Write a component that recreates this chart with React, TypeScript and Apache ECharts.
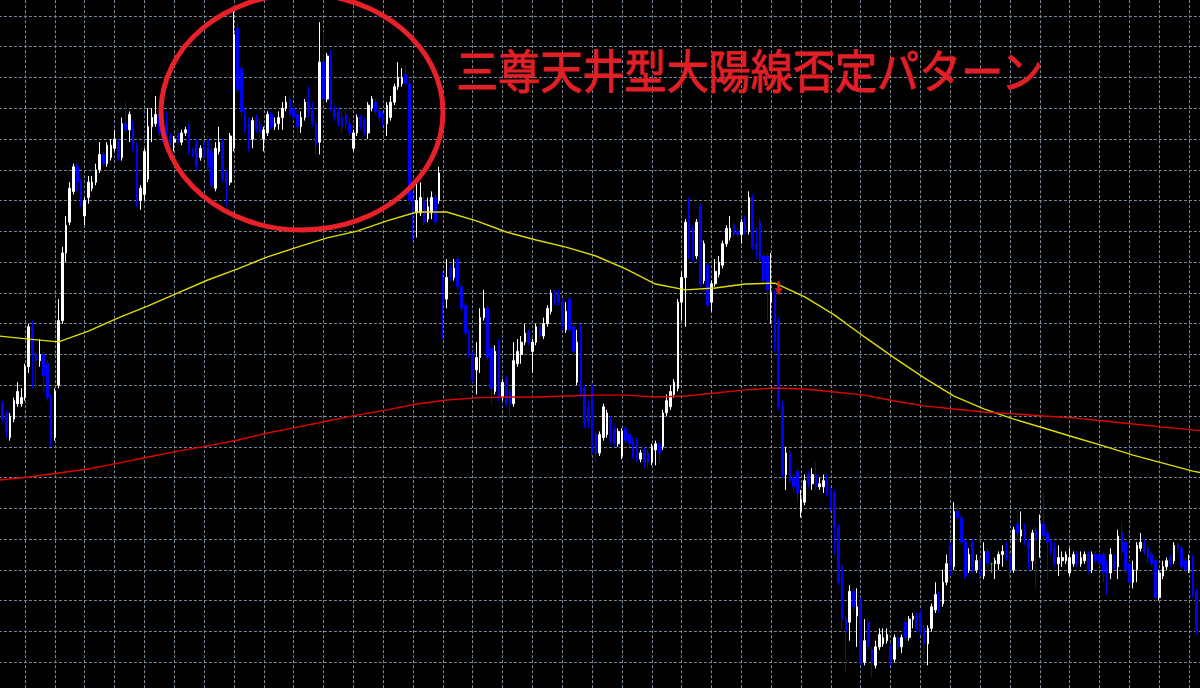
import React, { useEffect, useRef } from "react";
import * as echarts from "echarts";

// 328 bar slots; vertical grid every 8 bars
const categories: string[] = Array.from({ length: 328 }, (_, i) => "b" + i);

const openP: (number | null)[] = [null,
110.74,110.71,110.63,110.69,110.74,110.74,110.76,
110.86,110.99,110.90,110.88,110.90,110.87,110.76,110.63,
110.80,111.01,111.23,111.33,111.43,111.51,111.46,111.35,
111.41,111.44,111.46,111.50,111.55,111.52,111.54,111.57,
111.59,111.54,111.65,111.63,111.64,111.58,111.40,111.42,
111.47,111.64,111.65,111.68,111.65,111.65,111.61,111.59,
111.62,111.59,111.62,111.64,111.56,111.59,111.54,111.59,
111.60,111.56,111.44,111.56,111.59,111.49,111.46,111.57,
111.96,111.83,111.68,111.65,111.60,111.67,111.65,111.60,
111.62,111.68,111.64,111.65,111.67,111.70,111.73,111.70,
111.68,111.64,111.67,111.72,111.69,111.65,111.59,111.85,
111.73,111.87,111.70,111.69,111.67,111.68,111.65,111.57,
111.62,111.67,111.66,111.62,111.70,111.72,111.69,111.68,
111.65,111.67,111.72,111.77,111.78,111.81,111.78,111.40,
111.36,111.36,111.40,111.34,111.36,111.41,111.40,111.15,
111.08,111.18,111.15,111.21,111.12,111.06,110.97,110.90,
110.85,110.89,111.02,111.05,110.92,110.78,110.94,110.76,
110.82,110.78,110.74,110.87,110.90,110.94,110.97,110.91,
110.94,110.99,110.96,111.00,111.04,111.10,111.10,111.07,
110.98,111.08,110.99,110.81,110.99,110.79,110.73,110.80,
110.64,110.58,110.63,110.64,110.69,110.66,110.61,110.57,
110.66,110.64,110.62,110.62,110.56,110.59,110.58,110.55,
110.59,110.61,110.60,110.71,110.73,110.77,110.79,111.07,
111.15,111.40,111.31,111.22,111.38,111.14,111.19,111.07,
111.13,111.16,111.19,111.26,111.28,111.32,111.30,111.29,
111.34,111.30,111.41,111.26,111.33,111.22,111.22,111.07,
111.10,111.01,110.73,110.51,110.58,110.50,110.52,110.39,
110.42,110.51,110.48,110.51,110.47,110.47,110.50,110.46,
110.45,110.34,110.21,110.04,110.03,110.13,110.05,110.10,
109.90,110.03,109.94,109.89,109.95,109.96,109.97,109.95,
109.91,109.98,109.95,110.03,109.98,110.04,110.05,110.06,
110.01,109.96,110.01,110.07,110.11,110.09,110.16,110.28,
110.21,110.39,110.37,110.29,110.20,110.29,110.20,110.23,
110.18,110.26,110.22,110.22,110.22,110.25,110.26,110.25,
110.20,110.35,110.31,110.33,110.29,110.23,110.33,110.30,
110.35,110.32,110.29,110.27,110.22,110.23,110.23,110.19,
110.22,110.25,110.22,110.23,110.25,110.20,110.25,110.25,
110.25,110.22,110.19,110.23,110.21,110.32,110.29,110.22,
110.16,110.20,110.27,110.29,110.27,110.25,110.23,110.11,
110.18,110.21,110.24,110.23,110.28,110.27,110.23,110.20,
110.24,110.13];

const highP: (number | null)[] = [null,
110.75,110.72,110.71,110.76,110.81,110.79,110.87,
111.00,111.01,110.91,110.95,110.91,110.88,110.77,110.79,
111.08,111.25,111.35,111.46,111.52,111.52,111.47,111.41,
111.48,111.48,111.52,111.59,111.56,111.59,111.60,111.63,
111.60,111.67,111.72,111.69,111.66,111.59,111.45,111.57,
111.70,111.70,111.74,111.69,111.68,111.69,111.62,111.61,
111.64,111.63,111.64,111.65,111.57,111.60,111.58,111.60,
111.61,111.58,111.59,111.64,111.60,111.50,111.62,112.03,
111.98,111.84,111.70,111.67,111.67,111.68,111.67,111.64,
111.69,111.69,111.67,111.69,111.72,111.74,111.74,111.71,
111.69,111.69,111.73,111.77,111.72,111.67,111.98,111.95,
111.88,111.89,111.71,111.70,111.69,111.70,111.67,111.63,
111.68,111.68,111.67,111.72,111.74,111.73,111.70,111.69,
111.72,111.74,111.78,111.85,111.83,111.84,111.80,111.43,
111.47,111.46,111.43,111.41,111.43,111.42,111.51,111.17,
111.21,111.19,111.21,111.22,111.13,111.07,110.98,110.91,
110.94,111.05,111.11,111.06,110.93,110.93,110.95,110.82,
110.83,110.79,110.94,110.95,110.96,111.00,110.98,110.95,
111.00,111.00,111.02,111.06,111.11,111.11,111.11,111.08,
111.07,111.09,111.00,110.98,111.00,110.80,110.75,110.81,
110.65,110.65,110.74,110.72,110.70,110.67,110.66,110.66,
110.67,110.65,110.63,110.63,110.59,110.60,110.59,110.61,
110.62,110.62,110.72,110.77,110.80,110.82,111.08,111.17,
111.34,111.41,111.32,111.34,111.39,111.27,111.20,111.14,
111.21,111.22,111.27,111.32,111.35,111.33,111.31,111.34,
111.35,111.43,111.42,111.31,111.34,111.23,111.23,111.23,
111.11,111.02,110.75,110.60,110.59,110.51,110.53,110.46,
110.51,110.52,110.53,110.55,110.50,110.51,110.51,110.47,
110.46,110.35,110.22,110.05,110.15,110.14,110.14,110.11,
110.04,110.04,109.95,109.97,110.01,110.01,110.01,109.96,
109.99,109.99,109.99,110.04,110.05,110.06,110.06,110.07,
110.02,110.02,110.09,110.16,110.13,110.20,110.25,110.29,
110.42,110.41,110.38,110.30,110.27,110.30,110.25,110.24,
110.29,110.27,110.22,110.24,110.26,110.28,110.29,110.26,
110.34,110.38,110.39,110.35,110.30,110.33,110.34,110.38,
110.45,110.33,110.30,110.29,110.28,110.26,110.26,110.27,
110.26,110.26,110.26,110.26,110.26,110.26,110.26,110.26,
110.26,110.23,110.27,110.25,110.33,110.35,110.30,110.23,
110.23,110.29,110.32,110.30,110.28,110.26,110.24,110.20,
110.23,110.24,110.25,110.29,110.29,110.28,110.24,110.25,
110.25,110.14];

const lowP: (number | null)[] = [null,
110.68,110.63,110.62,110.68,110.73,110.73,110.75,
110.84,110.79,110.79,110.86,110.78,110.75,110.60,110.62,
110.79,111.00,111.20,111.32,111.42,111.43,111.38,111.32,
111.39,111.43,111.45,111.49,111.51,111.51,111.53,111.56,
111.53,111.53,111.62,111.59,111.56,111.38,111.37,111.40,
111.46,111.59,111.64,111.61,111.59,111.57,111.58,111.56,
111.58,111.58,111.61,111.55,111.54,111.50,111.53,111.53,
111.50,111.44,111.43,111.55,111.46,111.38,111.45,111.56,
111.75,111.67,111.62,111.56,111.57,111.62,111.59,111.56,
111.61,111.63,111.63,111.63,111.63,111.69,111.67,111.66,
111.59,111.62,111.66,111.67,111.64,111.55,111.55,111.72,
111.72,111.69,111.66,111.64,111.62,111.63,111.61,111.56,
111.61,111.63,111.61,111.60,111.69,111.68,111.66,111.64,
111.61,111.66,111.71,111.76,111.77,111.77,111.38,111.27,
111.28,111.35,111.32,111.33,111.34,111.32,111.39,110.95,
111.05,111.14,111.14,111.11,111.04,110.96,110.89,110.81,
110.77,110.84,111.01,110.88,110.74,110.77,110.75,110.75,
110.73,110.69,110.73,110.86,110.87,110.93,110.93,110.84,
110.93,110.95,110.95,110.99,111.03,111.06,111.06,110.98,
110.97,110.97,110.90,110.80,110.76,110.66,110.66,110.57,
110.55,110.57,110.62,110.63,110.61,110.60,110.60,110.56,
110.61,110.60,110.56,110.55,110.55,110.53,110.53,110.54,
110.54,110.55,110.59,110.70,110.72,110.76,110.78,111.01,
110.99,111.21,111.20,111.21,111.12,111.13,111.05,111.04,
111.12,111.15,111.18,111.25,111.27,111.28,111.28,111.26,
111.29,111.29,111.24,111.21,111.20,111.13,111.01,111.00,
110.91,110.72,110.50,110.46,110.48,110.45,110.42,110.37,
110.41,110.47,110.46,110.46,110.46,110.45,110.44,110.39,
110.25,110.15,110.01,109.87,109.97,110.06,109.95,109.89,
109.89,109.94,109.85,109.88,109.94,109.95,109.96,109.89,
109.90,109.94,109.93,109.97,109.97,110.01,110.00,109.99,
109.89,109.89,110.00,110.06,110.06,110.08,110.15,110.18,
110.20,110.36,110.28,110.17,110.19,110.19,110.19,110.17,
110.17,110.21,110.19,110.17,110.20,110.21,110.23,110.17,
110.19,110.31,110.29,110.28,110.20,110.20,110.14,110.24,
110.30,110.17,110.25,110.21,110.18,110.21,110.22,110.18,
110.21,110.21,110.21,110.22,110.19,110.19,110.22,110.21,
110.16,110.12,110.17,110.20,110.17,110.25,110.19,110.15,
110.14,110.16,110.26,110.25,110.22,110.21,110.10,110.10,
110.17,110.20,110.21,110.22,110.26,110.20,110.19,110.19,
110.11,109.99];

const closeP: (number | null)[] = [null,
110.69,110.65,110.70,110.75,110.78,110.76,110.86,
110.99,110.90,110.88,110.90,110.83,110.76,110.63,110.78,
111.01,111.23,111.32,111.44,111.51,111.46,111.40,111.40,
111.46,111.46,111.50,111.55,111.52,111.58,111.58,111.60,
111.54,111.65,111.63,111.68,111.58,111.40,111.44,111.56,
111.64,111.67,111.68,111.62,111.60,111.59,111.59,111.60,
111.59,111.62,111.63,111.56,111.55,111.51,111.57,111.54,
111.51,111.45,111.57,111.59,111.47,111.46,111.61,111.94,
111.76,111.69,111.63,111.60,111.66,111.63,111.62,111.63,
111.68,111.64,111.65,111.67,111.70,111.72,111.68,111.67,
111.64,111.67,111.72,111.69,111.65,111.58,111.85,111.73,
111.87,111.70,111.67,111.65,111.64,111.65,111.62,111.62,
111.67,111.64,111.62,111.71,111.73,111.69,111.67,111.65,
111.71,111.72,111.77,111.80,111.80,111.78,111.40,111.35,
111.40,111.41,111.33,111.38,111.41,111.33,111.49,111.07,
111.15,111.15,111.18,111.12,111.05,110.97,110.90,110.82,
110.89,111.02,111.05,110.89,110.79,110.91,110.76,110.81,
110.74,110.74,110.88,110.91,110.94,110.97,110.94,110.94,
110.99,110.96,111.00,111.05,111.10,111.07,111.07,110.99,
111.04,110.98,110.91,110.94,110.77,110.68,110.68,110.58,
110.58,110.64,110.73,110.71,110.62,110.61,110.65,110.65,
110.62,110.61,110.57,110.56,110.58,110.55,110.55,110.60,
110.61,110.58,110.71,110.75,110.78,110.81,111.07,111.15,
111.33,111.27,111.21,111.33,111.13,111.26,111.06,111.13,
111.17,111.20,111.26,111.31,111.31,111.29,111.29,111.33,
111.30,111.41,111.25,111.24,111.21,111.14,111.11,111.10,
110.94,110.73,110.51,110.58,110.49,110.47,110.45,110.43,
110.49,110.48,110.51,110.47,110.48,110.49,110.45,110.40,
110.34,110.16,110.04,110.00,110.13,110.08,110.08,109.90,
109.97,109.95,109.90,109.95,109.99,109.98,109.99,109.91,
109.98,109.95,109.98,109.98,110.04,110.05,110.01,110.00,
109.96,110.01,110.08,110.12,110.08,110.16,110.22,110.21,
110.39,110.37,110.29,110.18,110.25,110.21,110.23,110.18,
110.26,110.22,110.22,110.23,110.25,110.26,110.24,110.20,
110.33,110.32,110.33,110.29,110.27,110.32,110.30,110.35,
110.31,110.29,110.26,110.22,110.24,110.24,110.25,110.24,
110.25,110.22,110.24,110.25,110.20,110.25,110.23,110.22,
110.19,110.19,110.25,110.21,110.31,110.26,110.20,110.16,
110.20,110.28,110.29,110.26,110.24,110.22,110.11,110.19,
110.21,110.23,110.22,110.28,110.27,110.21,110.20,110.23,
110.12,110.00];

// moving averages read at every 8th bar
const maIndex = [0,8,16,24,32,40,48,56,64,72,80,88,96,104,112,120,128,136,144,152,160,168,176,184,192,200,208,216,224,232,240,248,256,264,272,280,288,296,304,312,320,324];
const yellowMA = [110.960,110.950,110.941,110.976,111.019,111.058,111.100,111.142,111.178,111.217,111.249,111.279,111.301,111.334,111.363,111.363,111.334,111.298,111.272,111.249,111.220,111.178,111.129,111.110,111.116,111.129,111.132,111.087,111.028,110.957,110.889,110.824,110.765,110.723,110.690,110.661,110.632,110.603,110.573,110.547,110.521,110.512];
const redMA = [110.492,110.502,110.515,110.528,110.547,110.567,110.586,110.603,110.622,110.645,110.664,110.684,110.703,110.720,110.739,110.752,110.759,110.762,110.762,110.765,110.768,110.768,110.762,110.765,110.775,110.785,110.791,110.788,110.778,110.768,110.749,110.733,110.723,110.713,110.707,110.700,110.694,110.684,110.674,110.664,110.655,110.651];

const sellArrowIndex = 209;
const sellArrowPrice = 111.115;

const titleText = "三尊天井型大陽線否定パターン";

export default function App() {
  const ref = useRef<HTMLDivElement>(null);
  useEffect(() => {
    document.body.style.margin = "0";
    document.body.style.background = "#000";
    const chart = echarts.init(ref.current as HTMLDivElement, null, { renderer: "svg" });
    const candles = openP.map((o, i) =>
      o === null ? ["-", "-", "-", "-"] : [o, closeP[i], lowP[i], highP[i]]
    );
    const gridLine = { show: true, lineStyle: { color: "#778899", type: [3, 2], width: 1 } };
    chart.setOption({
      animation: false,
      backgroundColor: "#000000",
      grid: {
        left: -1.12,
        top: -14.8,
        width: 1220.04,
        height: 707.8,
        containLabel: false,
        outerBoundsMode: "none",
      },
      xAxis: {
        type: "category",
        data: categories,
        boundaryGap: false,
        axisLine: { show: false },
        axisTick: { show: false },
        axisLabel: { show: false },
        splitLine: { ...gridLine, interval: (idx: number) => idx % 8 === 7 },
      },
      yAxis: {
        type: "value",
        min: 109.8,
        max: 112.1,
        interval: 0.1,
        axisLine: { show: false },
        axisTick: { show: false },
        axisLabel: { show: false },
        splitLine: gridLine,
      },
      series: [
        {
          type: "candlestick",
          data: candles,
          barWidth: 2.1,
          z: 2,
          itemStyle: {
            color: "#ffffff",
            color0: "#0000ff",
            borderColor: "#ffffff",
            borderColor0: "#0000ff",
            borderColorDoji: "#00d000",
            borderWidth: 1,
          },
        },
        {
          type: "line",
          data: maIndex.map((ix, k) => [ix, yellowMA[k]]),
          symbol: "none",
          z: 3,
          lineStyle: { color: "#dede00", width: 1.4 },
        },
        {
          type: "line",
          data: maIndex.map((ix, k) => [ix, redMA[k]]),
          symbol: "none",
          z: 3,
          lineStyle: { color: "#e00000", width: 1.4 },
        },
        {
          type: "scatter",
          data: [[sellArrowIndex, sellArrowPrice]],
          symbol: "path://M2.5,0 L5.5,0 L5.5,7 L8,7 L4,14 L0,7 L2.5,7 Z",
          symbolSize: [8, 14],
          z: 4,
          itemStyle: { color: "#ff2020" },
        },
      ],
      graphic: [
        {
          type: "ellipse",
          shape: { cx: 302, cy: 112, rx: 141, ry: 118 },
          style: { fill: "none", stroke: "#e8202a", lineWidth: 5 },
          z: 100,
          silent: true,
        },
        {
          type: "text",
          x: 456,
          y: 68,
          scaleX: 0.915,
          z: 100,
          style: {
            text: titleText,
            fill: "#e11f26",
            stroke: "#e11f26",
            lineWidth: 0.9,
            fontSize: 46,
            fontFamily: '"Noto Sans CJK JP", sans-serif',
            verticalAlign: "middle",
          },
        },
      ],
    });
    return () => chart.dispose();
  }, []);
  return (
    <div
      ref={ref}
      style={{ position: "fixed", left: 0, top: 0, width: 1200, height: 688, background: "#000" }}
    />
  );
}
